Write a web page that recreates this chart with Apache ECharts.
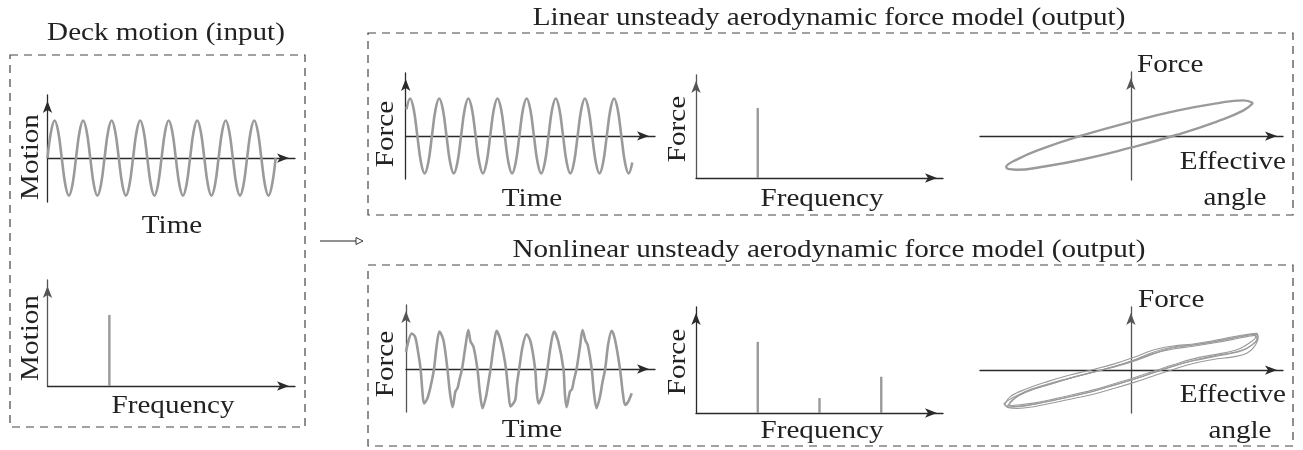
<!DOCTYPE html>
<html>
<head>
<meta charset="utf-8">
<script src="https://cdn.jsdelivr.net/npm/echarts@6/dist/echarts.min.js"></script>
<style>
  html, body { margin: 0; padding: 0; background: #fff; }
  #chart { width: 1303px; height: 450px; }
</style>
</head>
<body>
<div id="chart"></div>
<script>
// ---- data -------------------------------------------------------------
// Deck motion: one reading per eighth of a cycle, 8 cycles from t = 0
const motionStep = 0.125;
const motionSamples = [
  0, 0.71, 1, 0.71, 0, -0.71, -1, -0.71,
  0, 0.71, 1, 0.71, 0, -0.71, -1, -0.71,
  0, 0.71, 1, 0.71, 0, -0.71, -1, -0.71,
  0, 0.71, 1, 0.71, 0, -0.71, -1, -0.71,
  0, 0.71, 1, 0.71, 0, -0.71, -1, -0.71,
  0, 0.71, 1, 0.71, 0, -0.71, -1, -0.71,
  0, 0.71, 1, 0.71, 0, -0.71, -1, -0.71,
  0, 0.71, 1, 0.71, 0, -0.71, -1, -0.71,
  0];

// Linear model force: one reading per eighth of a cycle, from t = 0.025
const linearForceStart = 0.025;
const linearForceStep = 0.125;
const linearForceSamples = [
  0.71, 1, 0.71, 0, -0.71, -1, -0.71, 0,
  0.71, 1, 0.71, 0, -0.71, -1, -0.71, 0,
  0.71, 1, 0.71, 0, -0.71, -1, -0.71, 0,
  0.71, 1, 0.71, 0, -0.71, -1, -0.71, 0,
  0.71, 1, 0.71, 0, -0.71, -1, -0.71, 0,
  0.71, 1, 0.71, 0, -0.71, -1, -0.71, 0,
  0.71, 1, 0.71, 0, -0.71, -1, -0.71, 0,
  0.71, 1, 0.71, 0, -0.71, -1, -0.71];

// Nonlinear model force: [time (cycles), force]
const nonlinearForce = [[0, 0.46], [0.2, 0.95], [0.32, 0.86], [0.43, 0.42], [0.51, 0],
  [0.58, -0.65], [0.63, -0.92], [0.75, -0.78], [0.86, -0.47], [0.98, 0], [1.07, 0.6],
  [1.17, 1.0], [1.31, 0.77], [1.45, 0], [1.54, -0.65], [1.63, -1.02], [1.73, -0.6],
  [1.8, -0.52], [1.87, -0.29], [1.96, 0], [2.08, 0.6], [2.18, 1.04], [2.26, 0.73],
  [2.36, 0.6], [2.5, 0], [2.59, -0.65], [2.68, -1.05], [2.8, -0.74], [2.88, -0.38],
  [2.96, 0], [3.08, 0.68], [3.17, 1.02], [3.29, 0.82], [3.41, 0.42], [3.5, 0],
  [3.59, -0.65], [3.66, -1.0], [3.82, -0.83], [3.87, -0.47], [3.96, 0], [4.08, 0.6],
  [4.22, 0.93], [4.36, 0.73], [4.52, 0], [4.57, -0.56], [4.64, -0.92], [4.78, -0.69],
  [4.87, -0.38], [4.95, 0], [5.06, 0.6], [5.18, 1.0], [5.33, 0.73], [5.51, 0],
  [5.56, -0.65], [5.62, -1.02], [5.74, -0.6], [5.81, -0.54], [5.88, -0.29], [5.97, 0],
  [6.09, 0.6], [6.18, 1.04], [6.28, 0.76], [6.36, 0.64], [6.5, 0], [6.58, -0.65],
  [6.67, -1.05], [6.79, -0.74], [6.87, -0.38], [6.97, 0], [7.08, 0.68], [7.2, 1.02],
  [7.32, 0.77], [7.49, 0], [7.59, -0.65], [7.67, -0.96], [7.78, -0.87], [7.9, -0.65]];

// Amplitude spectra: [frequency / deck frequency, amplitude]
const motionSpectrum = [[1, 1.0]];
const linearSpectrum = [[1, 1.0]];
const nonlinearSpectrum = [[1, 1.0], [2, 0.21], [3, 0.51]];

// Force against effective angle: linear model (one closed cycle)
const linearLoop = [[0.98, 1.0], [0.9, 1.08], [0.69, 0.99], [0.37, 0.77], [-0.01, 0.42],
  [-0.39, 0.02], [-0.71, -0.38], [-0.92, -0.72], [-1.0, -0.94], [-0.92, -1.02],
  [-0.71, -0.93], [-0.39, -0.71], [-0.01, -0.36], [0.37, 0.04], [0.69, 0.44],
  [0.9, 0.77], [0.98, 1.0]];

// Force against effective angle: nonlinear model (four cycles)
const nonlinearLoopA = [[-1.01, -1.06], [-0.97, -0.81], [-0.83, -0.56], [-0.67, -0.35],
  [-0.49, -0.15], [-0.3, 0.02], [-0.14, 0.18], [0.02, 0.38], [0.18, 0.61], [0.34, 0.73],
  [0.5, 0.79], [0.66, 0.89], [0.82, 1.01], [0.95, 1.09], [1.01, 1.11], [1.02, 0.96],
  [0.99, 0.71], [0.93, 0.51], [0.82, 0.4], [0.66, 0.32], [0.5, 0.2], [0.34, 0.02],
  [0.18, -0.18], [0.02, -0.38], [-0.14, -0.56], [-0.3, -0.73], [-0.46, -0.86],
  [-0.62, -0.99], [-0.78, -1.11], [-0.91, -1.16], [-0.99, -1.13], [-1.01, -1.06]];
const nonlinearLoopB = [[-0.97, -1.0], [-0.9, -0.78], [-0.78, -0.58], [-0.62, -0.4],
  [-0.45, -0.2], [-0.28, -0.04], [-0.12, 0.12], [0.03, 0.3], [0.18, 0.5], [0.34, 0.64],
  [0.5, 0.72], [0.66, 0.82], [0.82, 0.93], [0.94, 1.02], [1.0, 1.05], [1.01, 0.92],
  [0.97, 0.76], [0.9, 0.6], [0.8, 0.5], [0.66, 0.4], [0.5, 0.28], [0.34, 0.12],
  [0.18, -0.08], [0.02, -0.28], [-0.14, -0.46], [-0.3, -0.64], [-0.46, -0.78],
  [-0.62, -0.92], [-0.78, -1.04], [-0.9, -1.1], [-0.97, -1.08], [-0.97, -1.0]];
const nonlinearLoopC = [[-1.02, -1.02], [-0.95, -0.84], [-0.82, -0.62], [-0.66, -0.44],
  [-0.48, -0.24], [-0.3, -0.06], [-0.14, 0.1], [0.02, 0.3], [0.18, 0.54], [0.34, 0.7],
  [0.5, 0.76], [0.66, 0.86], [0.82, 0.98], [0.94, 1.06], [0.99, 1.08], [1.0, 1.0],
  [0.95, 0.82], [0.88, 0.66], [0.8, 0.56], [0.66, 0.46], [0.5, 0.34], [0.34, 0.16],
  [0.18, -0.04], [0.02, -0.24], [-0.14, -0.42], [-0.3, -0.6], [-0.46, -0.74],
  [-0.62, -0.88], [-0.78, -1.0], [-0.92, -1.06], [-1.0, -1.08], [-1.02, -1.02]];
const nonlinearLoopD = [[-0.99, -1.1], [-0.95, -0.9], [-0.85, -0.66], [-0.7, -0.46],
  [-0.52, -0.27], [-0.34, -0.1], [-0.17, 0.06], [0.0, 0.24], [0.16, 0.46], [0.32, 0.66],
  [0.48, 0.75], [0.64, 0.84], [0.8, 0.95], [0.92, 1.04], [1.0, 1.09], [1.02, 1.02],
  [1.0, 0.86], [0.94, 0.68], [0.84, 0.55], [0.68, 0.44], [0.52, 0.31], [0.36, 0.14],
  [0.2, -0.06], [0.04, -0.26], [-0.12, -0.44], [-0.28, -0.62], [-0.44, -0.77],
  [-0.6, -0.9], [-0.76, -1.02], [-0.9, -1.1], [-0.98, -1.12], [-0.99, -1.1]];

// ---- layout -------------------------------------------------------------
const FONT = '"Liberation Serif", "DejaVu Serif", serif';
const INK = '#222';
const CURVE = '#9a9a9a';

// one panel per grid: pixel box + axis ranges
const panels = [
  { box: [47.5, 95, 247.5, 107],  x: [0, 8.68],     y: [-1.17, 1.68] },  // motion / time
  { box: [47.5, 280, 247.5, 106], x: [0, 4],        y: [0, 1.49] },      // motion / frequency
  { box: [405.7, 73, 249.3, 106], x: [0, 8.555],    y: [-1.15, 1.68] },  // linear force / time
  { box: [696, 75, 247, 103],     x: [0, 4],        y: [0, 1.47] },      // linear force / frequency
  { box: [980, 72, 303, 108],     x: [-1.21, 1.22], y: [-1.33, 1.94] },  // linear force / angle
  { box: [406, 305, 249, 107],    x: [0, 8.715],    y: [-1.15, 1.71] },  // nonlinear force / time
  { box: [696, 307, 247, 106],    x: [0, 4],        y: [0, 1.49] },      // nonlinear force / frequency
  { box: [980, 307, 303, 106],    x: [-1.21, 1.22], y: [-1.30, 1.91] }   // nonlinear force / angle
];

const arrowLine = (color) => ({
  show: true,
  onZero: true,
  symbol: ['none', 'arrow'],
  symbolSize: [7, 12],
  symbolOffset: [0, -6],
  lineStyle: { color: color, width: 1.3 }
});

const grid = panels.map(p => ({
  left: p.box[0], top: p.box[1], width: p.box[2], height: p.box[3],
  containLabel: false, outerBoundsMode: 'none'
}));
const bareAxis = (i, range, color) => ({
  type: 'value', gridIndex: i, min: range[0], max: range[1],
  axisLine: arrowLine(color), axisTick: { show: false },
  axisLabel: { show: false }, splitLine: { show: false }, z: 1
});
const xAxis = panels.map((p, i) => bareAxis(i, p.x, '#2a2a2a'));
const yAxis = panels.map((p, i) => bareAxis(i, p.y, i % 2 === 1 || i === 4 || i === 7 ? '#555' : '#2a2a2a'));

const curve = (i, data, width, smooth) => ({
  type: 'line', xAxisIndex: i, yAxisIndex: i, data: data,
  smooth: smooth, showSymbol: false, symbol: 'none', silent: true, z: 3,
  lineStyle: { color: CURVE, width: width }
});
const spikes = (i, data) => ({
  type: 'bar', xAxisIndex: i, yAxisIndex: i, data: data, barWidth: 2.4,
  silent: true, z: 3, itemStyle: { color: CURVE }
});

const series = [
  curve(0, motionSamples.map((v, k) => [k * motionStep, v]), 2.6, 0.4),
  spikes(1, motionSpectrum),
  curve(2, linearForceSamples.map((v, k) => [linearForceStart + k * linearForceStep, v]), 2.6, 0.4),
  spikes(3, linearSpectrum),
  curve(4, linearLoop, 2.4, 0.5),
  curve(5, nonlinearForce, 2.6, 0.3),
  spikes(6, nonlinearSpectrum),
  curve(7, nonlinearLoopA, 1.1, 0.4),
  curve(7, nonlinearLoopB, 1.1, 0.4),
  curve(7, nonlinearLoopC, 1.1, 0.4),
  curve(7, nonlinearLoopD, 1.1, 0.4)
];

// ---- text, frames and the input-to-output arrow -------------------------
const label = (text, x, y, align, rotated) => ({
  type: 'text', x: x, y: y, rotation: rotated ? Math.PI / 2 : 0,
  scaleX: 1.12, silent: true, z: 10,
  style: {
    text: text, x: 0, y: 0, fill: INK, font: '26px ' + FONT,
    textAlign: align || 'center', textVerticalAlign: 'middle'
  }
});
const frame = (x, y, w, h) => ({
  type: 'rect', silent: true, z: 5,
  shape: { x: x, y: y, width: w, height: h },
  style: { fill: 'none', stroke: '#444', lineWidth: 1.2, lineDash: [8, 6] }
});

const graphic = [
  frame(10, 55, 295, 372),
  frame(368, 33, 925, 182),
  frame(368, 265, 925, 181),

  label('Deck motion (input)', 166, 33),
  label('Motion', 31, 157, 'center', true),
  label('Time', 172, 226),
  label('Motion', 31, 338, 'center', true),
  label('Frequency', 173, 406),

  label('Linear unsteady aerodynamic force model (output)', 829, 18),
  label('Force', 386, 134, 'center', true),
  label('Time', 532, 199),
  label('Force', 678, 129, 'center', true),
  label('Frequency', 822, 199),
  label('Force', 1137, 65, 'left'),
  label('Effective', 1286, 162, 'right'),
  label('angle', 1235, 198),

  label('Nonlinear unsteady aerodynamic force model (output)', 829, 250),
  label('Force', 386, 364, 'center', true),
  label('Time', 532, 430),
  label('Force', 678, 362, 'center', true),
  label('Frequency', 822, 431),
  label('Force', 1138, 300, 'left'),
  label('Effective', 1286, 395, 'right'),
  label('angle', 1240, 431),

  {
    type: 'line', silent: true, z: 6,
    shape: { x1: 320, y1: 241, x2: 357, y2: 241 },
    style: { stroke: INK, lineWidth: 1 }
  },
  {
    type: 'polygon', silent: true, z: 6,
    shape: { points: [[356, 237.5], [363, 241], [356, 244.5]] },
    style: { fill: '#fff', stroke: INK, lineWidth: 0.9 }
  }
];

const chart = echarts.init(document.getElementById('chart'), null, { renderer: 'canvas' });
chart.setOption({
  animation: false,
  backgroundColor: '#fff',
  grid: grid,
  xAxis: xAxis,
  yAxis: yAxis,
  series: series,
  graphic: graphic
});
</script>
</body>
</html>
